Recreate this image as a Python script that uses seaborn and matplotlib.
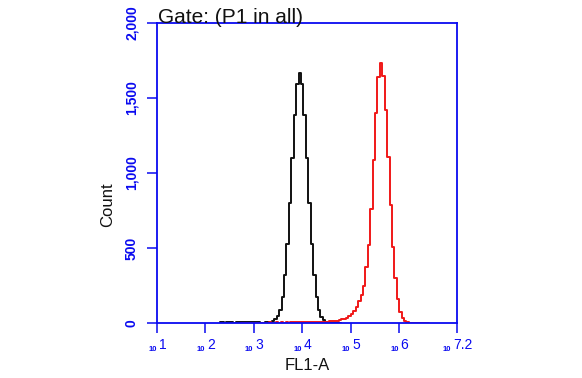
import matplotlib
matplotlib.use("Agg")
import matplotlib.pyplot as plt
import matplotlib.ticker as mticker
from matplotlib.transforms import blended_transform_factory, ScaledTranslation
import seaborn as sns
import numpy as np
import pandas as pd

# histogram bins (log10 of FL1-A) and counts
black_log = np.round(np.arange(2.30, 4.81, 0.05), 2)
black_counts = [4, 6, 3, 5, 8, 4, 3, 6, 7, 5, 4, 6, 5, 4, 6, 5, 4, 3,
                3, 4, 6, 10, 14, 24, 45, 90, 176, 319, 529, 800, 1103, 1387, 1592,
                1667, 1592, 1387, 1103, 800, 529, 319, 176, 88, 40, 17, 7, 3,
                2, 3, 2, 1, 0]

red_log = np.round(np.arange(2.73, 6.64, 0.05), 2)
red_counts = [2, 3, 2, 3, 2, 3, 3, 2, 3, 3, 2, 3, 4, 3, 3, 4, 3, 4, 3, 4,
              3, 4, 4, 5, 4, 5, 4, 5, 5, 6, 6, 6, 7, 7,
              8, 9, 10, 12, 14, 15, 16, 20, 24, 28, 33, 45, 60, 80, 110, 145,
              190, 250, 373, 520, 760, 1090, 1400, 1640, 1733,
              1650, 1420, 1110, 790, 510, 300, 160, 76, 33, 13,
              5, 3, 3, 3, 2, 3, 2, 3, 3, 2]

y_ticks = [0, 500, 1000, 1500, 2000]
x_exps = ["1", "2", "3", "4", "5", "6", "7.2"]

black = pd.DataFrame({"x": 10 ** black_log, "count": black_counts})
red = pd.DataFrame({"x": 10 ** red_log, "count": red_counts})

sns.set_theme(style="white")
plt.rcParams["font.family"] = ["Liberation Sans", "DejaVu Sans"]

blue = "#0a0af0"
fig = plt.figure(figsize=(5.82, 3.78), dpi=100)
ax = fig.add_axes([157 / 582, 55 / 378, 300 / 582, 300 / 378])

sns.lineplot(data=black, x="x", y="count", color="#111111", lw=1.4,
             drawstyle="steps-mid", ax=ax)
sns.lineplot(data=red, x="x", y="count", color="#f01818", lw=1.4,
             drawstyle="steps-mid", ax=ax)

ax.set_xscale("log")
ax.set_xlim(10, 10 ** 7.2)
ax.set_ylim(0, 2000)

for s in ax.spines.values():
    s.set_color(blue)
    s.set_linewidth(1.3)

# x ticks: tiny "10" followed by the exponent, drawn as two texts
ax.set_xticks([10 ** float(e) for e in x_exps])
ax.set_xticklabels([])
ax.xaxis.set_minor_locator(mticker.LogLocator(base=10, subs=np.arange(2, 10)))
ax.xaxis.set_minor_formatter(mticker.NullFormatter())
trans = blended_transform_factory(ax.transData, ax.transAxes)
for e in x_exps:
    w_exp = sum(0.278 if c == "." else 0.556 for c in e) * 10
    w_ten = 2 * 0.556 * 5.5
    joint = (w_ten - w_exp) / 2
    ax.text(10 ** float(e), 0, "10", fontsize=5.5, fontweight="bold", color=blue,
            ha="right", va="baseline",
            transform=trans + ScaledTranslation((joint - 0.5) / 72, -20 / 72, fig.dpi_scale_trans))
    ax.text(10 ** float(e), 0, e, fontsize=10, color=blue, ha="left", va="baseline",
            transform=trans + ScaledTranslation((joint + 1) / 72, -18.5 / 72, fig.dpi_scale_trans))

ax.set_yticks(y_ticks)
ax.set_yticklabels([f"{v:,}" for v in y_ticks], rotation=90, va="center",
                   fontweight="bold")

ax.tick_params(axis="x", which="major", direction="out", length=7, width=1.1,
               color=blue, bottom=True)
ax.tick_params(axis="x", which="minor", direction="out", length=7, width=1.0,
               color=blue, bottom=True)
ax.tick_params(axis="y", which="major", direction="out", length=7, width=1.1,
               color=blue, labelcolor=blue, labelsize=10, pad=6, left=True)

ax.set_xlabel("FL1-A", fontsize=12, color="#111111")
ax.xaxis.set_label_coords(0.5, -0.117)
ax.set_ylabel("Count", fontsize=12, color="#111111")
ax.yaxis.set_label_coords(-0.138, 0.393)

ax.text(0.003, 1.0, "Gate: (P1 in all)", transform=ax.transAxes,
        ha="left", va="baseline", fontsize=15, color="#111111")

fig.savefig("out.png", dpi=100)
